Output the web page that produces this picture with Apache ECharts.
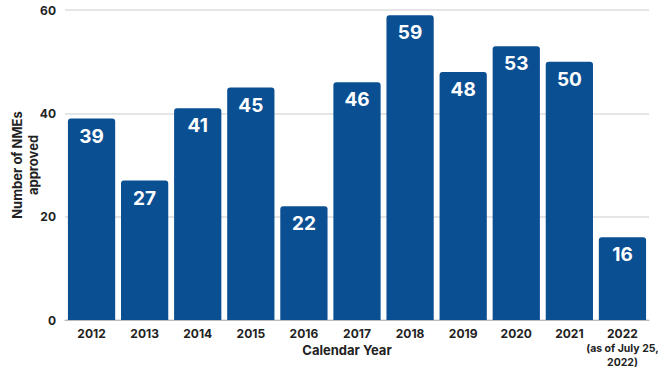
<!DOCTYPE html>
<html>
<head>
<meta charset="utf-8">
<script src="https://cdn.jsdelivr.net/npm/echarts@6/dist/echarts.min.js"></script>
<style>
  html, body { margin: 0; padding: 0; background: #fff; }
  #chart { width: 659px; height: 369px; }
</style>
</head>
<body>
<div id="chart"></div>
<script>
// 年份与数据
const years = ["2012", "2013", "2014", "2015", "2016", "2017", "2018", "2019", "2020", "2021", "2022\n(as of July 25,\n2022)"];
const nmeCounts = [39, 27, 41, 45, 22, 46, 59, 48, 53, 50, 16];
const yTicks = [0, 20, 40, 60];

const chart = echarts.init(document.getElementById("chart"), null, { renderer: "svg" });

chart.setOption({
  animation: false,
  textStyle: { fontFamily: "Inter, 'DejaVu Sans', sans-serif" },
  grid: { left: 65, right: 10, top: 10, bottom: 49, outerBoundsMode: "none", containLabel: false },
  xAxis: {
    type: "category",
    data: years,
    name: "Calendar Year",
    nameLocation: "middle",
    nameGap: 23,
    nameMoveOverlap: false,
    nameTextStyle: { fontSize: 13, fontWeight: "bold", color: "#222", padding: [0, 20, 0, 0] },
    axisLine: { lineStyle: { color: "#bbb" } },
    axisTick: { show: false },
    axisLabel: {
      interval: 0,
      margin: 5,
      formatter: function (v) {
        const lines = v.split("\n");
        let out = "{main|" + lines[0] + "}";
        for (let i = 1; i < lines.length; i++) out += "\n{sub|" + lines[i] + "}";
        return out;
      },
      rich: {
        main: { fontSize: 12, fontWeight: "bold", color: "#222", lineHeight: 16 },
        sub: { fontSize: 10.5, fontWeight: "bold", color: "#222", lineHeight: 14 }
      }
    }
  },
  yAxis: {
    type: "value",
    min: yTicks[0],
    max: yTicks[yTicks.length - 1],
    interval: 20,
    name: "Number of NMEs\napproved",
    nameLocation: "middle",
    nameGap: 24,
    nameMoveOverlap: false,
    nameTextStyle: { fontSize: 13, fontWeight: "bold", color: "#222", lineHeight: 16 },
    axisLabel: { fontSize: 12, fontWeight: "bold", color: "#222", margin: 9 },
    splitLine: { lineStyle: { color: "#ddd", width: 1.5 } }
  },
  series: [
    {
      type: "bar",
      data: nmeCounts,
      barCategoryGap: "11%",
      itemStyle: { color: "#0b4f93", borderRadius: [3, 3, 0, 0] },
      label: {
        show: true,
        position: "insideTop",
        distance: 8,
        color: "#fff",
        fontSize: 19,
        fontWeight: "bold"
      }
    }
  ]
});
</script>
</body>
</html>
